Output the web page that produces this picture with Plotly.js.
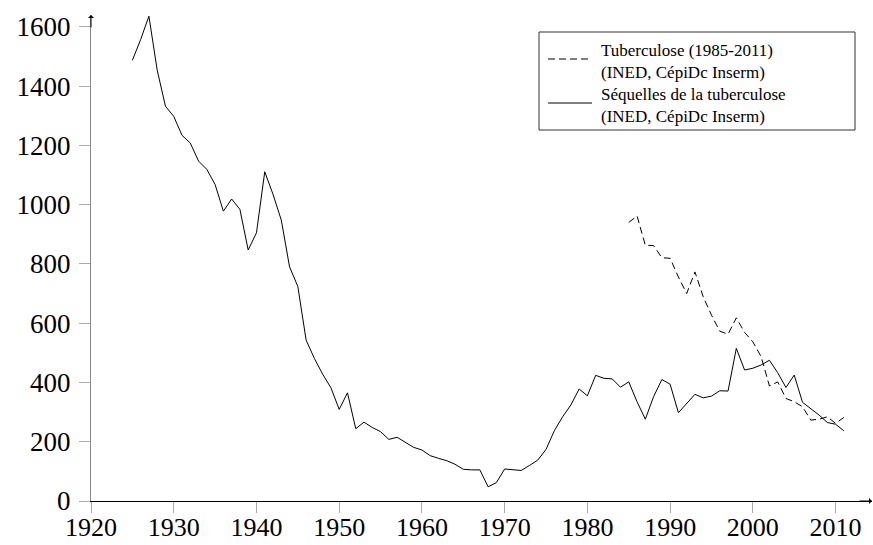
<!DOCTYPE html>
<html>
<head>
<meta charset="utf-8">
<script src="https://cdn.plot.ly/plotly-3.0.1.min.js"></script>
<style>html,body{margin:0;padding:0;background:#fff;}#chart{width:873px;height:545px;}</style>
</head>
<body>
<div id="chart"></div>
<script>
// Séquelles de la tuberculose (solid line), 1925-2011
const yearsSequelles = [1925,1926,1927,1928,1929,1930,1931,1932,1933,1934,1935,1936,1937,1938,1939,1940,
  1941,1942,1943,1944,1945,1946,1947,1948,1949,1950,1951,1952,1953,1954,1955,1956,1957,1958,1959,1960,
  1961,1962,1963,1964,1965,1966,1967,1968,1969,1970,1971,1972,1973,1974,1975,1976,1977,1978,1979,1980,
  1981,1982,1983,1984,1985,1986,1987,1988,1989,1990,1991,1992,1993,1994,1995,1996,1997,1998,1999,2000,
  2001,2002,2003,2004,2005,2006,2007,2008,2009,2010,2011];
const valuesSequelles = [1487,1557,1636,1454,1332,1298,1234,1208,1147,1119,1068,978,1019,984,847,905,
  1111,1035,948,790,724,543,481,428,382,309,365,244,266,248,234,208,215,198,181,172,
  153,144,136,124,107,105,105,48,62,108,105,103,120,138,174,237,284,324,378,355,
  424,414,412,384,402,335,276,352,410,394,298,328,360,348,354,372,371,515,442,448,
  459,475,433,383,425,333,313,290,265,259,237];

// Tuberculose (dashed line), 1985-2011
const yearsTuberculose = [1985,1986,1987,1988,1989,1990,1991,1992,1993,1994,1995,1996,1997,1998,1999,2000,
  2001,2002,2003,2004,2005,2006,2007,2008,2009,2010,2011];
const valuesTuberculose = [940,962,863,862,821,819,756,700,773,689,627,573,563,618,569,537,
  487,388,402,346,335,318,273,276,284,262,282];

const legendTuberculose = ["Tuberculose (1985-2011)", "(INED, CépiDc Inserm)"];
const legendSequelles = ["Séquelles de la tuberculose", "(INED, CépiDc Inserm)"];

const xTicks = [1920,1930,1940,1950,1960,1970,1980,1990,2000,2010];
const yTicks = [0,200,400,600,800,1000,1200,1400,1600];

const serif = "'Liberation Serif', 'Times New Roman', serif";
const dashPattern = "7px,4px";

// plot-area geometry (pixels) used to place the hand-drawn legend
const L = 91, T = 15, W = 781, H = 486;
const px = v => (v - L) / W;
const py = v => (T + H - v) / H;

const traces = [
  {x: yearsTuberculose, y: valuesTuberculose, name: legendTuberculose.join(" "), mode: "lines",
   line: {color: "#000", width: 1, dash: dashPattern}, showlegend: false},
  {x: yearsSequelles, y: valuesSequelles, name: legendSequelles.join(" "), mode: "lines",
   line: {color: "#000", width: 1}, showlegend: false}
];

const legendItems = [[legendTuberculose, 61], [legendSequelles, 105.5]];

const annotations = legendItems.map(([t, y]) => ({
  xref: "paper", yref: "paper", x: px(600), y: py(y), xanchor: "left", yanchor: "middle",
  align: "left", text: t.join("<br>"), showarrow: false, borderpad: 0,
  font: {family: serif, size: 17, color: "#000"}
}));
annotations.push(
  {xref: "paper", yref: "paper", x: 1, y: 0, ax: -14, ay: 0, axref: "pixel", ayref: "pixel",
   text: "", showarrow: true, arrowhead: 1, arrowsize: 1, arrowwidth: 1, arrowcolor: "#000"},
  {xref: "paper", yref: "paper", x: 0, y: 1, ax: 0, ay: 14, axref: "pixel", ayref: "pixel",
   text: "", showarrow: true, arrowhead: 1, arrowsize: 1, arrowwidth: 1, arrowcolor: "#000"}
);

const shapes = [
  {type: "rect", xref: "paper", yref: "paper", x0: px(539), x1: px(855), y0: py(32), y1: py(130),
   line: {color: "#333", width: 1}, fillcolor: "#fff", layer: "above"},
  {type: "line", xref: "paper", yref: "paper", x0: px(548), x1: px(592), y0: py(59), y1: py(59),
   line: {color: "#000", width: 1, dash: dashPattern}},
  {type: "line", xref: "paper", yref: "paper", x0: px(548), x1: px(592), y0: py(103), y1: py(103),
   line: {color: "#000", width: 1}}
];

const layout = {
  width: 873, height: 545,
  margin: {l: L, r: 873 - L - W, t: T, b: 545 - T - H, pad: 0},
  paper_bgcolor: "#fff", plot_bgcolor: "#fff",
  font: {family: serif, color: "#000", size: 27},
  showlegend: false,
  xaxis: {
    range: [1920, 2014.4], tickvals: xTicks, ticktext: xTicks.map(String),
    showgrid: false, zeroline: false, showline: true, linecolor: "#000", linewidth: 1.2,
    ticks: "outside", ticklen: 11, tickcolor: "#aaa", tickwidth: 1,
    ticklabelstandoff: -8,
    tickfont: {family: serif, size: 26, color: "#000"}
  },
  yaxis: {
    range: [0, 1640], tickvals: yTicks, ticktext: yTicks.map(String),
    showgrid: false, zeroline: false, showline: true, linecolor: "#888", linewidth: 1.2,
    ticks: "outside", ticklen: 11, tickcolor: "#aaa", tickwidth: 1,
    ticklabelstandoff: 3,
    tickfont: {family: serif, size: 27, color: "#000"}
  },
  shapes: shapes,
  annotations: annotations
};

Plotly.newPlot("chart", traces, layout, {displayModeBar: false, staticPlot: true});
</script>
</body>
</html>
